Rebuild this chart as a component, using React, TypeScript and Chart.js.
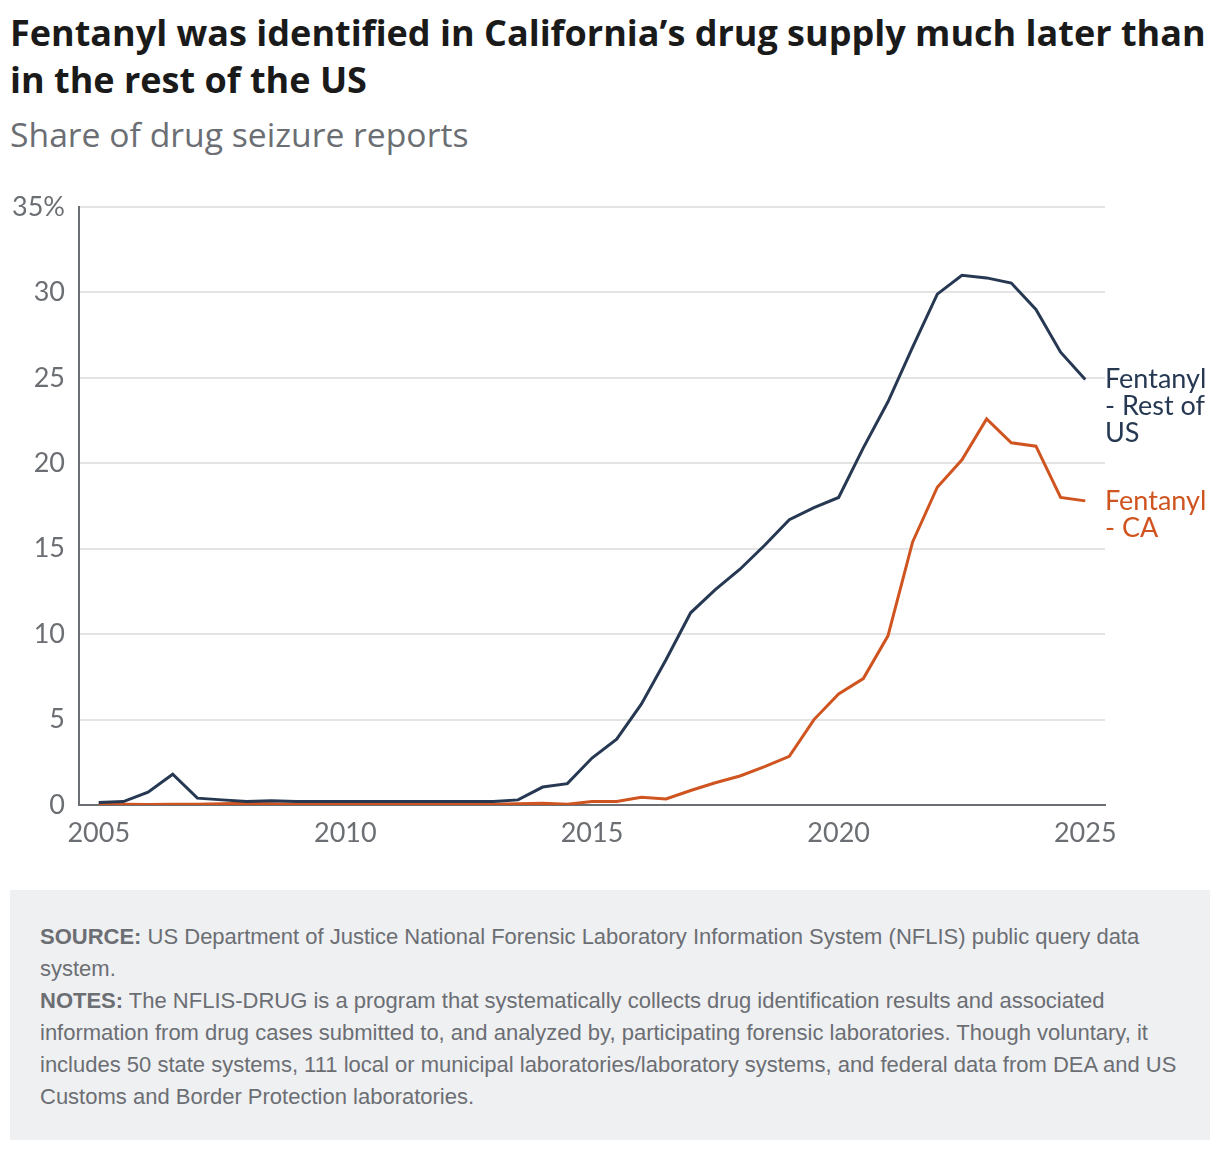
import { useEffect, useRef } from 'react';
import { Chart, registerables } from 'chart.js';

Chart.register(...registerables);

const periods = [
  2005, 2005.5, 2006, 2006.5, 2007, 2007.5, 2008, 2008.5, 2009, 2009.5,
  2010, 2010.5, 2011, 2011.5, 2012, 2012.5, 2013, 2013.5, 2014, 2014.5,
  2015, 2015.5, 2016, 2016.5, 2017, 2017.5, 2018, 2018.5, 2019, 2019.5,
  2020, 2020.5, 2021, 2021.5, 2022, 2022.5, 2023, 2023.5, 2024, 2024.5, 2025,
];

const restOfUs = [
  0.15, 0.2, 0.75, 1.8, 0.4, 0.3, 0.2, 0.25, 0.2, 0.2,
  0.2, 0.2, 0.2, 0.2, 0.2, 0.2, 0.2, 0.3, 1.05, 1.25,
  2.75, 3.85, 5.9, 8.5, 11.25, 12.6, 13.8, 15.2, 16.7, 17.4,
  18.0, 20.9, 23.6, 26.8, 29.9, 31.0, 30.85, 30.55, 29.0, 26.5, 24.9,
];

const california = [
  0.05, 0.05, 0.03, 0.05, 0.05, 0.08, 0.1, 0.08, 0.05, 0.05,
  0.05, 0.05, 0.05, 0.05, 0.05, 0.03, 0.05, 0.08, 0.1, 0.05,
  0.2, 0.2, 0.45, 0.35, 0.85, 1.3, 1.7, 2.25, 2.85, 5.0,
  6.5, 7.4, 9.9, 15.4, 18.6, 20.2, 22.6, 21.2, 21.0, 18.0, 17.8,
];

const xTicks = [2005, 2010, 2015, 2020, 2025];
const yTicks = [0, 5, 10, 15, 20, 25, 30, 35];

const seriesLabels = [
  ['Fentanyl', '- Rest of', 'US'],
  ['Fentanyl', '- CA'],
];

const NAVY = '#263852';
const ORANGE = '#cf5420';
const GRAY = '#6b6e73';
const FONT = 'Lato, "Open Sans", sans-serif';
const HEAD_FONT = '"Open Sans", Lato, sans-serif';

// series names written next to the last point of each line
const endLabels = {
  id: 'endLabels',
  afterDatasetsDraw(chart: any) {
    const { ctx, chartArea, scales } = chart;
    ctx.save();
    ctx.font = `27px ${FONT}`;
    ctx.textAlign = 'left';
    ctx.textBaseline = 'middle';
    chart.data.datasets.forEach((ds: any, i: number) => {
      const last = ds.data[ds.data.length - 1];
      const y = scales.y.getPixelForValue(last.y);
      ctx.fillStyle = ds.borderColor;
      seriesLabels[i].forEach((line, j) => {
        ctx.fillText(line, chartArea.right, y + j * 27);
      });
    });
    ctx.restore();
  },
};

function LineChart() {
  const canvasRef = useRef<HTMLCanvasElement>(null);

  useEffect(() => {
    if (!canvasRef.current) return;
    const chart = new Chart(canvasRef.current, {
      type: 'line',
      data: {
        datasets: [
          {
            label: 'Fentanyl - Rest of US',
            data: periods.map((p, i) => ({ x: p, y: restOfUs[i] })),
            borderColor: NAVY,
            borderWidth: 3,
            pointRadius: 0,
            tension: 0,
          },
          {
            label: 'Fentanyl - CA',
            data: periods.map((p, i) => ({ x: p, y: california[i] })),
            borderColor: ORANGE,
            borderWidth: 3,
            pointRadius: 0,
            tension: 0,
          },
        ],
      },
      options: {
        animation: false,
        responsive: true,
        maintainAspectRatio: false,
        layout: { padding: { top: 37, right: 115, left: 0, bottom: 0 } },
        plugins: {
          legend: { display: false },
          tooltip: { enabled: false },
        },
        scales: {
          x: {
            type: 'linear',
            min: 2004.6,
            max: 2025.4,
            afterBuildTicks: (scale: any) => {
              scale.ticks = xTicks.map((v) => ({ value: v }));
            },
            afterFit: (scale: any) => {
              scale.height = 65;
            },
            grid: { display: false, drawTicks: false },
            border: { display: true, color: GRAY, width: 2 },
            ticks: {
              color: GRAY,
              font: { family: FONT, size: 27 },
              padding: 12,
              maxRotation: 0,
              autoSkip: false,
              callback: (v: any) => String(v),
            },
          },
          y: {
            min: 0,
            max: 35,
            afterBuildTicks: (scale: any) => {
              scale.ticks = yTicks.map((v) => ({ value: v }));
            },
            afterFit: (scale: any) => {
              scale.width = 79;
            },
            grid: { color: '#e4e4e4', lineWidth: 2, drawTicks: false },
            border: { display: true, color: GRAY, width: 2 },
            ticks: {
              color: GRAY,
              font: { family: FONT, size: 27 },
              padding: 14,
              callback: (v: any) => (v === 35 ? '35%' : String(v)),
            },
          },
        },
      },
      plugins: [endLabels],
    });
    return () => chart.destroy();
  }, []);

  return <canvas ref={canvasRef}></canvas>;
}

export default function App() {
  useEffect(() => {
    document.body.style.margin = '0';
  }, []);

  return (
    <div style={{ position: 'relative', width: 1220, height: 1152, background: '#fff', fontFamily: FONT }}>
      <div
        style={{
          position: 'absolute',
          left: 10,
          top: 9,
          fontFamily: HEAD_FONT,
          fontSize: 36,
          lineHeight: '47px',
          fontWeight: 700,
          color: '#1a1a1a',
          whiteSpace: 'nowrap',
        }}
      >
        Fentanyl was identified in California’s drug supply much later than
        <br />
        in the rest of the US
      </div>
      <div
        style={{
          position: 'absolute',
          left: 10,
          top: 114,
          fontFamily: HEAD_FONT,
          fontSize: 33.7,
          lineHeight: '40px',
          color: GRAY,
          whiteSpace: 'nowrap',
        }}
      >
        Share of drug seizure reports
      </div>
      <div style={{ position: 'absolute', left: 0, top: 170, width: 1220, height: 700 }}>
        <LineChart />
      </div>
      <div
        style={{
          position: 'absolute',
          left: 10,
          top: 890,
          width: 1200,
          height: 250,
          background: '#eff0f2',
          boxSizing: 'border-box',
          padding: '31px 30px 0 30px',
          fontFamily: '"Liberation Sans", Arial, sans-serif',
          fontSize: 22,
          lineHeight: '32px',
          color: GRAY,
          whiteSpace: 'nowrap',
        }}
      >
        <div>
          <b>SOURCE:</b> US Department of Justice National Forensic Laboratory Information System (NFLIS) public query data
        </div>
        <div>system.</div>
        <div>
          <b>NOTES:</b> The NFLIS-DRUG is a program that systematically collects drug identification results and associated
        </div>
        <div>
          information from drug cases submitted to, and analyzed by, participating forensic laboratories. Though voluntary, it
        </div>
        <div>
          includes 50 state systems, 111 local or municipal laboratories/laboratory systems, and federal data from DEA and US
        </div>
        <div>Customs and Border Protection laboratories.</div>
      </div>
    </div>
  );
}
